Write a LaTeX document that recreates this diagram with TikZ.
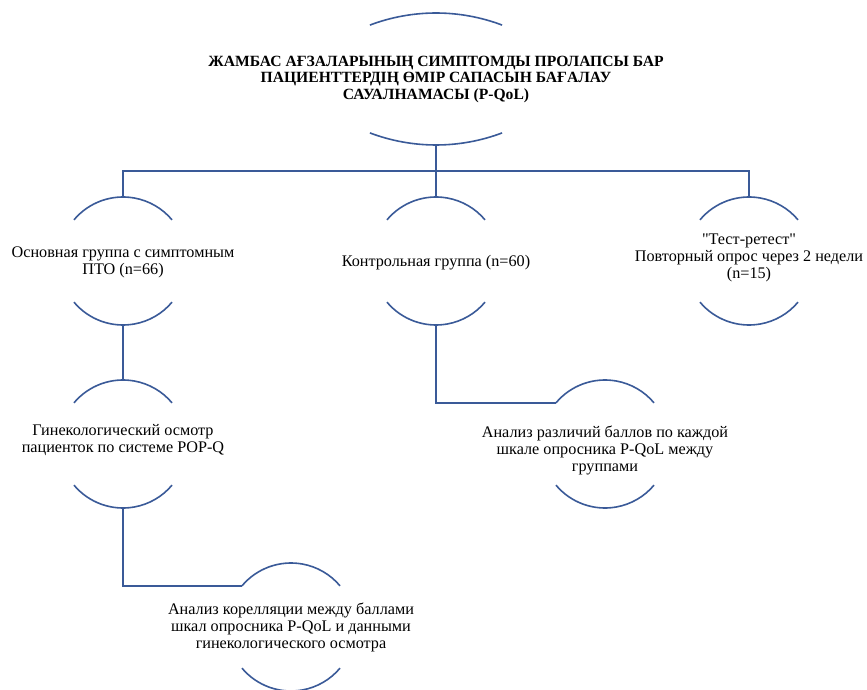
\documentclass[tikz,border=0pt]{standalone}
\usepackage{fontspec}
\setmainfont{Liberation Serif}
\definecolor{linkblue}{RGB}{58,90,152}

\begin{document}
\begin{tikzpicture}[
    x=1pt, y=1pt,
    txt/.style={align=center, inner sep=0pt, font=\fontsize{16.2}{17}\selectfont},
    head/.style={align=center, inner sep=0pt, font=\fontsize{15.6}{16.5}\selectfont\bfseries},
    arcline/.style={draw=linkblue, line width=1.6pt},
    link/.style={draw=linkblue, line width=1.5pt}
]
    \useasboundingbox (0,0) rectangle (867,689);

    % --- Title ---
    \node[head] (ttl) at (436, 610) {ЖАМБАС АҒЗАЛАРЫНЫҢ СИМПТОМДЫ ПРОЛАПСЫ БАР\\
        ПАЦИЕНТТЕРДІҢ ӨМІР САПАСЫН БАҒАЛАУ\\ САУАЛНАМАСЫ (P-QoL)};
    \coordinate (ttl-t) at ([yshift=66pt]ttl.center);
    \coordinate (ttl-b) at ([yshift=-66pt]ttl.center);
    \draw[arcline] ([shift={(110.7:187pt)}]ttl-t) ++(0,-187pt) arc[start angle=110.7, end angle=69.3, radius=187pt];
    \draw[arcline] ([shift={(249.3:187pt)}]ttl-b) ++(0,187pt) arc[start angle=249.3, end angle=290.7, radius=187pt];

    % --- Groups ---
    \node[txt] (grp) at (123, 427) {Основная группа с симптомным\\ПТО (n=66)};
    \node[txt] (ctrl) at (436, 426) {Контрольная группа (n=60)};
    \node[txt] (retest) at (749, 431) {\textquotedbl Тест-ретест\textquotedbl\\Повторный опрос через 2 недели\\(n=15)};

    % --- Analysis ---
    \node[txt] (exam) at (123, 249) {Гинекологический осмотр\\пациенток по системе POP-Q};
    \node[txt] (diff) at (605, 239) {Анализ различий баллов по каждой\\шкале опросника P-QoL между\\группами};
    \node[txt] (corr) at (291, 62) {Анализ корелляции между баллами\\шкал опросника P-QoL и данными\\гинекологического осмотра};

    % arcs round every node
    \foreach \n/\dy in {grp/1, ctrl/2, retest/-3, exam/-4, diff/6, corr/0} {
        \coordinate (\n-c) at ([yshift=\dy pt]\n.center);
        \draw[arcline] ([shift={(140:64pt)}]\n-c) arc[start angle=140, end angle=40, radius=64pt];
        \draw[arcline] ([shift={(220:64pt)}]\n-c) arc[start angle=220, end angle=320, radius=64pt];
        \coordinate (\n-t) at ([yshift=64pt]\n-c);
        \coordinate (\n-b) at ([yshift=-64pt]\n-c);
        \coordinate (\n-l) at ([shift={(140:64pt)}]\n-c);
    }

    % --- Connectors ---
    \coordinate (bus) at (436, 518);
    \draw[link] (ttl-b) -- (ctrl-t);
    \draw[link] (grp-t) |- (bus) -| (retest-t);
    \draw[link] (grp-b) -- (exam-t);
    \draw[link] (ctrl-b) |- (diff-l);
    \draw[link] (exam-b) |- (corr-l);

\end{tikzpicture}
\end{document}
